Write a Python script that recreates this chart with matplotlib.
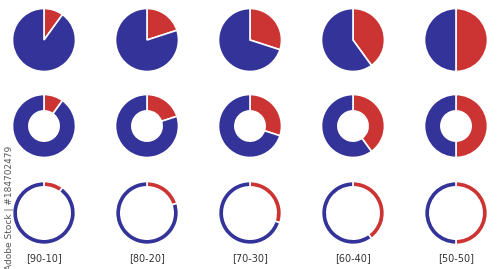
import matplotlib.pyplot as plt

# --------------- data -----------------
labels = ["[90-10]", "[80-20]", "[70-30]", "[60-40]", "[50-50]"]
red_share = [10, 20, 30, 40, 50]
blue_share = [90, 80, 70, 60, 50]

blue = "#333399"
red = "#cc3333"

col_x = [44, 147, 250, 353, 456]
row_y = [40, 126, 213]          # pixel rows, from the top
ring_width = [None, 0.52, 0.17]  # full pie, thick donut, thin ring
R = 31.5

fig = plt.figure(figsize=(5.0, 2.69), dpi=100)
ax = fig.add_axes([0, 0, 1, 1])
ax.set_xlim(0, 500)
ax.set_ylim(0, 269)
ax.set_aspect("equal")
ax.axis("off")

for row, w in zip(row_y, ring_width):
    for cx, r_val, b_val in zip(col_x, red_share, blue_share):
        props = dict(edgecolor="white", linewidth=1.2)
        if w is not None:
            props["width"] = w * R
        ax.pie([r_val, b_val], colors=[red, blue], startangle=90,
               counterclock=False, center=(cx, 269 - row), radius=R,
               wedgeprops=props, frame=True)

ax.set_xlim(0, 500)
ax.set_ylim(0, 269)
ax.axis("off")

for cx, lab in zip(col_x, labels):
    ax.text(cx, 269 - 258, lab, ha="center", va="center", fontsize=7,
            color="#333333", family="DejaVu Sans")

ax.text(10, 269 - 208, "Adobe Stock | #184702479", rotation=90,
        ha="center", va="center", fontsize=6.5, color="#555555")

fig.savefig("out.png", dpi=100)
